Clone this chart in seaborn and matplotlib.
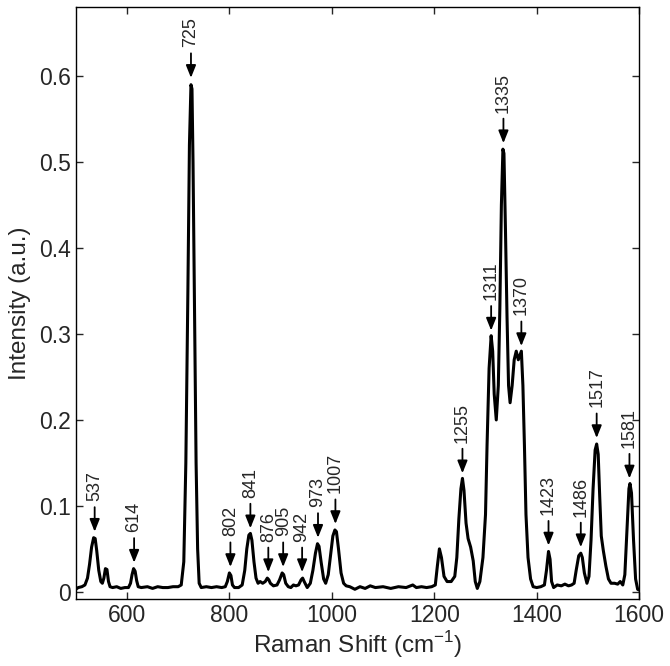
import matplotlib
matplotlib.use('Agg')
import matplotlib.pyplot as plt
import seaborn as sns
import numpy as np
from matplotlib.ticker import FuncFormatter, MultipleLocator

# Espectro Raman
shift = [500, 505, 512, 518, 523, 527, 531, 535, 538, 541, 545, 549, 552, 555, 558, 561, 564, 567,
         572, 580, 588, 596, 603, 607, 610, 613, 616, 619, 622, 628, 640, 650, 660, 670, 680, 690,
         700, 706, 711, 715, 719, 722, 725, 727, 729, 732, 735, 738, 741, 745, 755, 765, 775, 785,
         792, 796, 800, 803, 806, 810, 818, 825, 830, 834, 838, 841, 844, 848, 852, 856, 860, 865,
         870, 874, 877, 880, 886, 893, 898, 903, 906, 910, 915, 920, 925, 930, 935, 940, 943, 946,
         952, 958, 963, 968, 972, 975, 979, 984, 988, 993, 998, 1002, 1006, 1009, 1013, 1018, 1023,
         1028, 1035, 1045, 1055, 1065, 1075, 1085, 1100, 1115, 1130, 1145, 1158, 1165, 1175, 1185,
         1195, 1202, 1206, 1210, 1214, 1219, 1225, 1233, 1240, 1244, 1248, 1252, 1255, 1258, 1262,
         1266, 1271, 1276, 1280, 1284, 1289, 1295, 1300, 1303, 1307, 1311, 1314, 1317, 1321, 1325,
         1328, 1331, 1334, 1336, 1339, 1342, 1345, 1348, 1352, 1356, 1360, 1364, 1367, 1370, 1373,
         1376, 1379, 1383, 1388, 1393, 1400, 1408, 1415, 1419, 1423, 1426, 1429, 1433, 1440, 1448,
         1455, 1462, 1468, 1473, 1477, 1482, 1486, 1489, 1493, 1498, 1502, 1506, 1510, 1514, 1517,
         1520, 1523, 1526, 1530, 1535, 1540, 1545, 1552, 1558, 1563, 1568, 1572, 1576, 1580, 1582,
         1585, 1589, 1593, 1597, 1600]
intensity = [0.003, 0.005, 0.006, 0.008, 0.016, 0.032, 0.052, 0.063, 0.062, 0.048, 0.025, 0.012,
             0.010, 0.016, 0.027, 0.026, 0.012, 0.006, 0.005, 0.006, 0.004, 0.005, 0.005, 0.010,
             0.020, 0.027, 0.024, 0.013, 0.006, 0.005, 0.006, 0.004, 0.006, 0.005, 0.005, 0.006,
             0.006, 0.008, 0.035, 0.150, 0.350, 0.520, 0.590, 0.585, 0.500, 0.320, 0.150, 0.050,
             0.010, 0.005, 0.006, 0.005, 0.006, 0.005, 0.006, 0.012, 0.022, 0.019, 0.008, 0.005,
             0.005, 0.008, 0.025, 0.050, 0.066, 0.068, 0.060, 0.035, 0.016, 0.010, 0.012, 0.010,
             0.012, 0.016, 0.014, 0.010, 0.007, 0.008, 0.014, 0.022, 0.020, 0.010, 0.006, 0.005,
             0.008, 0.007, 0.008, 0.014, 0.016, 0.012, 0.005, 0.010, 0.025, 0.045, 0.056, 0.053,
             0.035, 0.015, 0.010, 0.020, 0.045, 0.065, 0.072, 0.070, 0.050, 0.022, 0.010, 0.007,
             0.006, 0.003, 0.006, 0.004, 0.007, 0.005, 0.006, 0.004, 0.006, 0.005, 0.008, 0.005,
             0.006, 0.005, 0.006, 0.008, 0.030, 0.050, 0.040, 0.018, 0.012, 0.012, 0.018, 0.040,
             0.085, 0.120, 0.132, 0.118, 0.080, 0.062, 0.052, 0.036, 0.012, 0.004, 0.012, 0.040,
             0.090, 0.170, 0.260, 0.298, 0.280, 0.230, 0.200, 0.240, 0.330, 0.450, 0.515, 0.510,
             0.420, 0.320, 0.240, 0.220, 0.240, 0.270, 0.280, 0.270, 0.275, 0.280, 0.240, 0.170,
             0.090, 0.040, 0.015, 0.006, 0.005, 0.006, 0.008, 0.025, 0.047, 0.038, 0.012, 0.005,
             0.008, 0.007, 0.009, 0.007, 0.008, 0.010, 0.025, 0.042, 0.045, 0.040, 0.022, 0.010,
             0.018, 0.060, 0.120, 0.165, 0.172, 0.160, 0.110, 0.065, 0.048, 0.030, 0.015, 0.010,
             0.010, 0.009, 0.012, 0.008, 0.020, 0.070, 0.120, 0.126, 0.115, 0.060, 0.015, 0.003,
             0.002]

# Picos marcados
peak_labels = ['537', '614', '725', '802', '841', '876', '905', '942', '973', '1007',
               '1255', '1311', '1335', '1370', '1423', '1486', '1517', '1581']
peak_x = [537, 614, 725, 802, 841, 876, 905, 942, 973, 1007,
          1255, 1311, 1335, 1370, 1423, 1486, 1517, 1581]
peak_y = [0.064, 0.028, 0.592, 0.023, 0.068, 0.017, 0.023, 0.017, 0.057, 0.073,
          0.132, 0.298, 0.516, 0.280, 0.048, 0.046, 0.173, 0.126]

sns.set_style('ticks')
plt.rcParams['font.family'] = ['Liberation Sans', 'DejaVu Sans']
plt.rcParams['mathtext.fontset'] = 'custom'
plt.rcParams['mathtext.rm'] = 'Liberation Sans'

fig, ax = plt.subplots(figsize=(6.7, 6.66), dpi=100)
fig.subplots_adjust(left=0.113, right=0.954, top=0.989, bottom=0.101)

sns.lineplot(x=shift, y=intensity, color='k', linewidth=2.2, ax=ax)

for lab, px, py in zip(peak_labels, peak_x, peak_y):
    ax.annotate(lab, xy=(px, py + 0.006), xytext=(0, 22), textcoords='offset points',
                rotation=90, ha='center', va='bottom', fontsize=13,
                arrowprops=dict(arrowstyle='-|>,head_length=0.75,head_width=0.3',
                                color='k', lw=1.3, shrinkA=2, shrinkB=0, mutation_scale=10))

ax.set_xlim(500, 1600)
ax.set_ylim(-0.008, 0.68)
ax.xaxis.set_major_locator(MultipleLocator(200))
ax.yaxis.set_major_locator(MultipleLocator(0.1))
ax.yaxis.set_major_formatter(FuncFormatter(lambda v, p: '%g' % round(v, 2)))

ax.tick_params(direction='in', top=True, right=True, length=5, width=1, labelsize=16.5)
for s in ax.spines.values():
    s.set_linewidth(1)
    s.set_color('k')

ax.set_xlabel('Raman Shift (cm$^{-1}$)', fontsize=17.5, labelpad=2)
ax.set_ylabel('Intensity (a.u.)', fontsize=17.5, labelpad=6)

plt.savefig('out.png', dpi=100)
plt.close()
